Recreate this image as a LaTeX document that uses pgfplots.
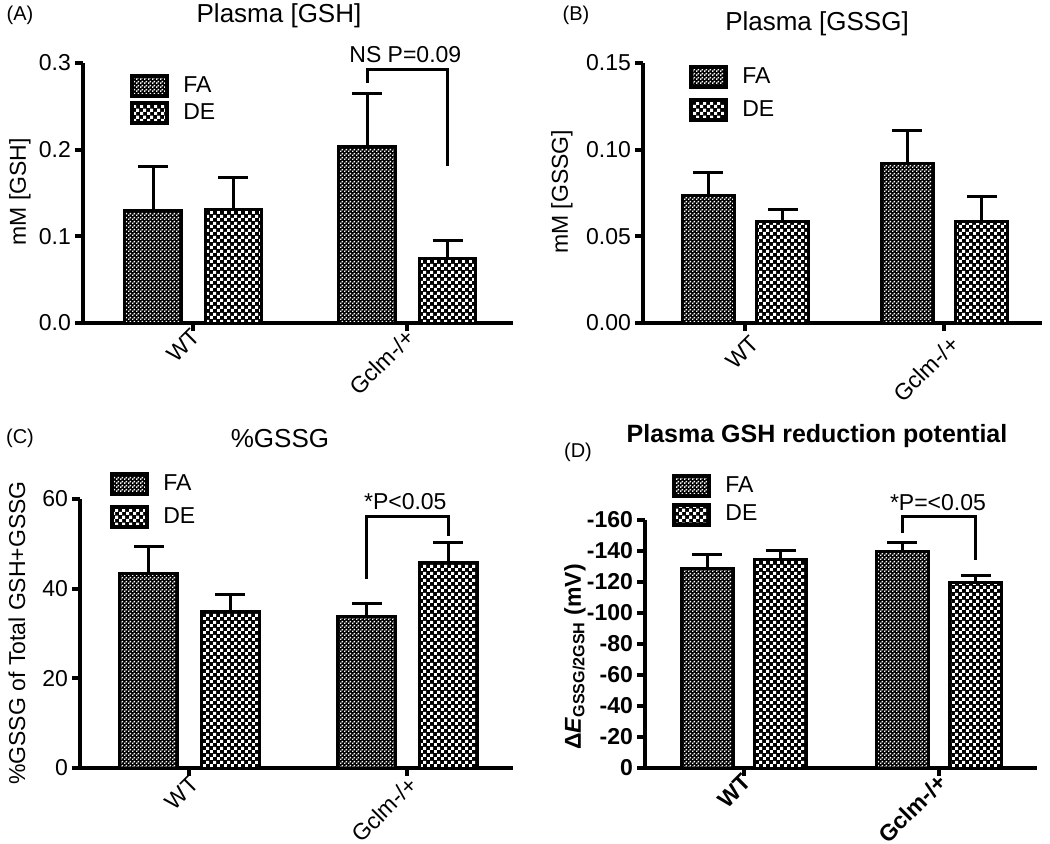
\documentclass[border=0pt]{standalone}
\usepackage{pgfplots}
\pgfplotsset{compat=1.18}
\usepackage{fontspec}
\setmainfont{Liberation Sans}
\usetikzlibrary{patterns}

% FA: fine pattern of small white squares on black
\pgfdeclarepatternformonly{fadots}{\pgfqpoint{0pt}{0pt}}{\pgfqpoint{2pt}{2pt}}{\pgfqpoint{2pt}{2pt}}{%
  \pgfpathrectangle{\pgfqpoint{0pt}{0pt}}{\pgfqpoint{0.9pt}{0.9pt}}%
  \pgfpathrectangle{\pgfqpoint{1pt}{1pt}}{\pgfqpoint{0.9pt}{0.9pt}}%
  \pgfusepath{fill}}
% DE: coarse checkerboard of white squares on black
\pgfdeclarepatternformonly{dechk}{\pgfqpoint{0pt}{0pt}}{\pgfqpoint{3.5pt}{3.5pt}}{\pgfqpoint{3.5pt}{3.5pt}}{%
  \pgfpathrectangle{\pgfqpoint{0pt}{0pt}}{\pgfqpoint{1.7pt}{1.7pt}}%
  \pgfpathrectangle{\pgfqpoint{1.75pt}{1.75pt}}{\pgfqpoint{1.7pt}{1.7pt}}%
  \pgfusepath{fill}}

\newcommand{\fnt}{\fontsize{11.5}{13}\selectfont}

\pgfplotsset{
  panel/.style={
    ybar, bar width=0.266, bar shift=0pt,
    scale only axis, axis lines=left, axis line style={line width=2pt, -},
    enlargelimits=false, clip=false,
    xtick={0,1}, xticklabels={WT,Gclm-/+},
    tick align=outside, major tick length=4pt,
    tick style={line width=2pt, black},
    xticklabel style={rotate=45, anchor=north east, inner sep=1pt, xshift=1.5pt, font=\fnt},
    yticklabel style={font=\fnt, xshift=1.5pt},
    /pgf/number format/assume math mode=true,
    legend style={draw=none, fill=none, font=\fnt, inner sep=0pt, anchor=north west,
      cells={anchor=west}, column sep=5pt},
    legend image code/.code={\draw[##1, line width=2pt] (0pt,-5pt) rectangle (17.5pt,5pt);},
  },
  ebars/.style={
    error bars/y dir=plus, error bars/y explicit,
    error bars/error bar style={line width=1.5pt, black},
    error bars/error mark options={rotate=90, line width=1.5pt, mark size=7.5pt, black}},
  fa/.style={draw=black, line width=1.5pt, fill=black, postaction={pattern=fadots, pattern color=white}, ebars},
  de/.style={draw=black, line width=1.5pt, fill=black, postaction={pattern=dechk, pattern color=white}, ebars},
}

\begin{document}
\begin{tikzpicture}
\path[use as bounding box] (0,0) rectangle (525pt,421.5pt);

% ---------------- (A) ----------------
\begin{axis}[panel, at={(41.5pt,260pt)}, anchor=south west, width=215pt, height=130pt,
  xticklabel style={yshift=3.5pt},
  xmin=-0.516, xmax=1.493, ymin=0, ymax=0.3, ytick={0,0.1,0.2,0.3},
  yticklabel style={/pgf/number format/.cd, fixed, fixed zerofill, precision=1},
  ylabel={mM [GSH]},
  every axis y label/.style={at={(axis description cs:-0.1465,0.504)}, rotate=90, anchor=center, font=\fnt},
  legend style={at={(0.109,0.965)}, row sep=0pt}]
\addplot[fa] coordinates {(-0.187,0.130) +- (0,0.051) (0.813,0.204) +- (0,0.061)};
\addlegendentry{FA}
\addplot[de] coordinates {(0.187,0.131) +- (0,0.037) (1.187,0.074) +- (0,0.021)};
\addlegendentry{DE}
\draw[line width=1.5pt] (axis cs:0.813,0.277) |- (axis cs:1.187,0.292) -- (axis cs:1.187,0.181);
\node[anchor=south, font=\fnt, inner sep=2pt] at (axis cs:0.99,0.295) {NS P=0.09};
\end{axis}

% ---------------- (B) ----------------
\begin{axis}[panel, at={(321.5pt,260pt)}, anchor=south west, width=199.5pt, height=130pt,
  xticklabel style={yshift=-1.5pt}, bar width=0.261,
  xmin=-0.515, xmax=1.490, ymin=0, ymax=0.15, ytick={0,0.05,0.1,0.15},
  yticklabel style={/pgf/number format/.cd, fixed, fixed zerofill, precision=2},
  ylabel={mM [GSSG]},
  every axis y label/.style={at={(axis description cs:-0.203,0.504)}, rotate=90, anchor=center, font=\fnt},
  legend style={at={(0.115,1.0)}, row sep=3pt}]
\addplot[fa] coordinates {(-0.188,0.0733) +- (0,0.0138) (0.812,0.0923) +- (0,0.0185)};
\addlegendentry{FA}
\addplot[de] coordinates {(0.188,0.0588) +- (0,0.0064) (1.188,0.0588) +- (0,0.0139)};
\addlegendentry{DE}
\end{axis}

% ---------------- (C) ----------------
\begin{axis}[panel, at={(40pt,37.5pt)}, anchor=south west, width=216.5pt, height=134.5pt,
  xticklabel style={yshift=1.8pt},
  xmin=-0.502, xmax=1.484, ymin=0, ymax=60, ytick={0,20,40,60},
  ylabel={\%GSSG of Total GSH+GSSG},
  every axis y label/.style={at={(axis description cs:-0.1455,0.502)}, rotate=90, anchor=center, font=\fnt},
  legend style={at={(0.069,1.108)}, row sep=3pt}]
\addplot[fa] coordinates {(-0.186,43.3) +- (0,6.2) (0.814,33.7) +- (0,3.1)};
\addlegendentry{FA}
\addplot[de] coordinates {(0.186,34.8) +- (0,4.0) (1.186,45.9) +- (0,4.3)};
\addlegendentry{DE}
\draw[line width=1.5pt] (axis cs:0.814,42.2) |- (axis cs:1.186,56.0) -- (axis cs:1.186,51.7);
\node[anchor=south, font=\fnt, inner sep=2pt] at (axis cs:0.99,56.6) {*P<0.05};
\end{axis}

% ---------------- (D) ----------------
\begin{axis}[panel, at={(322.5pt,37.5pt)}, anchor=south west, width=196pt, height=124pt,
  y dir=reverse, bar width=0.264,
  xmin=-0.508, xmax=1.503, ymin=-160, ymax=0, ytick={-160,-140,...,0},
  xticklabel style={font=\fnt\bfseries, yshift=3.3pt}, yticklabel style={font=\fnt\bfseries},
  ylabel={\textbf{Δ\textit{E}\textsubscript{GSSG/2GSH} (mV)}},
  every axis y label/.style={at={(axis description cs:-0.179,0.448)}, rotate=90, anchor=center, font=\fnt},
  legend style={at={(0.069,1.194)}, row sep=1pt}]
\addplot[fa, error bars/y dir=minus] coordinates {(-0.188,-129.0) +- (0,9.0) (0.812,-139.4) +- (0,5.8)};
\addlegendentry{FA}
\addplot[de, error bars/y dir=minus] coordinates {(0.188,-134.8) +- (0,5.8) (1.188,-119.4) +- (0,5.1)};
\addlegendentry{DE}
\draw[line width=1.5pt] (axis cs:0.812,-151.6) |- (axis cs:1.188,-162) -- (axis cs:1.188,-134.2);
\node[anchor=south, font=\fnt, inner sep=2pt] at (axis cs:0.995,-163) {*P=<0.05};
\end{axis}

% titles and panel letters
\node[font=\fontsize{13}{15}\selectfont] at (139.5pt,413.5pt) {Plasma [GSH]};
\node[font=\fontsize{13}{15}\selectfont] at (408.5pt,409.5pt) {Plasma [GSSG]};
\node[font=\fontsize{13}{15}\selectfont] at (140pt,202pt) {\%GSSG};
\node[font=\fontsize{12.5}{15}\selectfont\bfseries] at (408.5pt,203.5pt) {Plasma GSH reduction potential};
\node[font=\fontsize{10}{12}\selectfont] at (10pt,414pt) {(A)};
\node[font=\fontsize{10}{12}\selectfont] at (288pt,414pt) {(B)};
\node[font=\fontsize{10}{12}\selectfont] at (10pt,202.5pt) {(C)};
\node[font=\fontsize{10}{12}\selectfont] at (289pt,195.5pt) {(D)};
\end{tikzpicture}
\end{document}
